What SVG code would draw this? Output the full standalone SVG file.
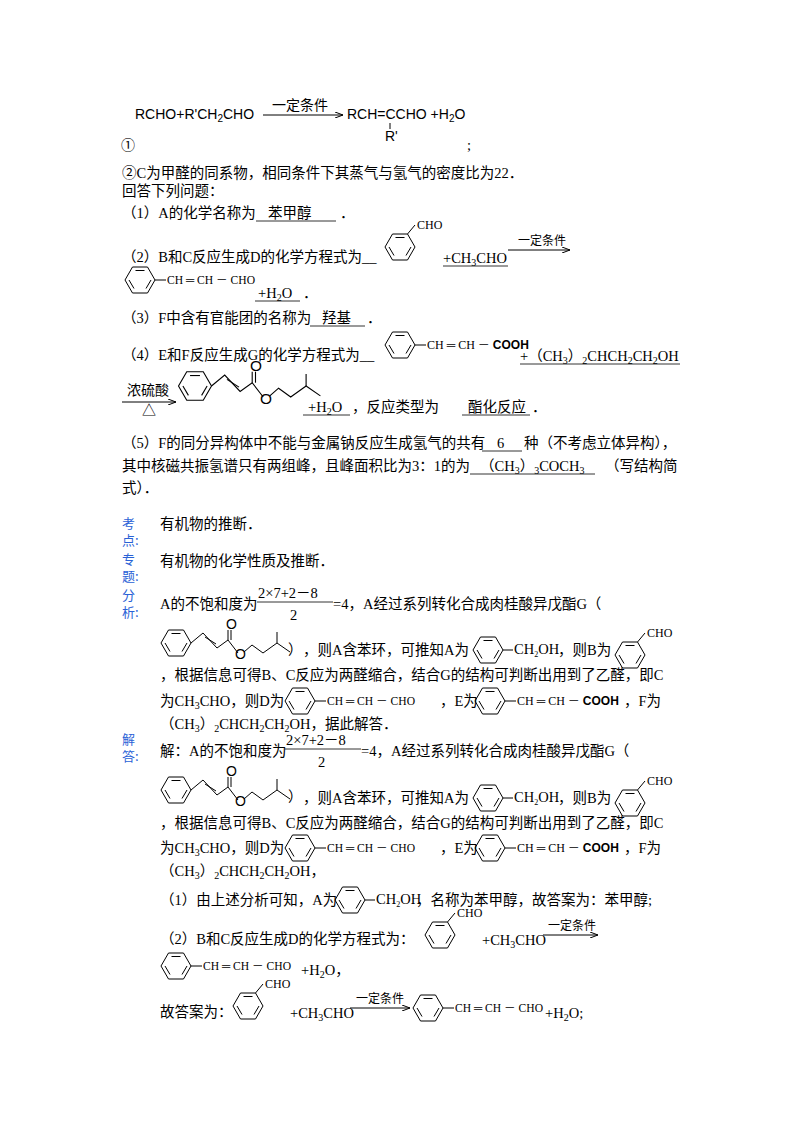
<svg xmlns="http://www.w3.org/2000/svg" xmlns:xlink="http://www.w3.org/1999/xlink" width="800" height="1132" viewBox="0 0 800 1132">
<style>
text{font-family:"Liberation Serif","Noto Sans CJK SC",serif;font-size:14.5px;fill:#000}
.s{font-family:"Liberation Sans","Noto Sans CJK SC",sans-serif;font-size:14px}
.sm{font-size:12px}
.lb{fill:#2a62d6;font-family:"Noto Sans CJK SC",sans-serif;font-size:13px}
.ln{stroke:#000;stroke-width:1;fill:none}
.u{stroke:#000;stroke-width:0.8}
</style>
<defs>
<marker id="ah" markerWidth="8" markerHeight="6" refX="8" refY="3" orient="auto"><path d="M0,0 L8,3 L0,6" fill="none" stroke="#000"/></marker>
<g id="bz" class="ln"><polygon points="-15,0 -7.5,-13 7.5,-13 15,0 7.5,13 -7.5,13"/><line x1="-4.5" y1="-9.5" x2="4.5" y2="-9.5"/><line x1="11" y1="0" x2="6" y2="8.5"/><line x1="-11" y1="0" x2="-6" y2="8.5"/></g>
<g id="G"><use xlink:href="#bz"/><polyline class="ln" points="15,0 27,-10 41,5 52,-3 62,10"/><line class="ln" x1="29" y1="-6" x2="40" y2="1"/><line class="ln" x1="52" y1="-3" x2="52" y2="-13"/><line class="ln" x1="55" y1="-3" x2="55" y2="-13"/><text x="50" y="-14" class="s" font-size="10">O</text><text x="59" y="16" class="s" font-size="10">O</text><polyline class="ln" points="68,9 76,2 87,10 101,0 114,9"/><line class="ln" x1="101" y1="0" x2="101" y2="-11"/></g>
<g id="A"><use xlink:href="#bz"/><line class="ln" x1="15" y1="0" x2="25" y2="0"/><text x="26" y="4" font-size="11">CH<tspan font-size="8" dy="3">2</tspan><tspan dy="-3">OH</tspan></text></g>
<g id="B"><use xlink:href="#bz"/><line class="ln" x1="7.5" y1="-13" x2="15" y2="-22"/><text x="17" y="-18" class="sm">CHO</text></g>
<g id="D"><use xlink:href="#bz"/><line class="ln" x1="15" y1="0" x2="26" y2="0"/><text x="27" y="4" class="sm" textLength="88" lengthAdjust="spacingAndGlyphs">CH ═ CH － CHO</text></g>
<g id="E"><use xlink:href="#bz"/><line class="ln" x1="15" y1="0" x2="26" y2="0"/><text x="27" y="4" class="sm">CH ═ CH － <tspan font-family="Liberation Sans" font-weight="bold">COOH</tspan></text></g>
</defs>

<g id="info">
<text x="135" y="119" class="s">RCHO+R'CH<tspan font-size="10" dy="3">2</tspan><tspan dy="-3">CHO</tspan></text>
<line class="ln" x1="263" y1="115" x2="343" y2="115" marker-end="url(#ah)"/>
<text x="272" y="110" class="s" font-size="12">一定条件</text>
<text x="347" y="119" class="s">RCH=CCHO +H<tspan font-size="10" dy="3">2</tspan><tspan dy="-3">O</tspan></text>
<line class="ln" x1="390" y1="123" x2="390" y2="129"/>
<text x="385" y="141" class="s">R'</text>
<text x="121" y="150" class="s">①</text>
<text x="467" y="150">;</text>
<text x="122" y="178">②C为甲醛的同系物，相同条件下其蒸气与氢气的密度比为22．</text>
<text x="122" y="196">回答下列问题：</text>
</g>

<g id="q1"><text x="122" y="218">（1）A的化学名称为</text><text x="268" y="218">苯甲醇</text><line class="u" x1="256" y1="221" x2="336" y2="221"/><text x="340" y="218">．</text></g>

<g id="q2">
<text x="122" y="262">（2）B和C反应生成D的化学方程式为__</text>
<use xlink:href="#B" x="400" y="247"/>
<text x="443" y="263">+CH<tspan font-size="10" dy="3">3</tspan><tspan dy="-3">CHO</tspan></text>
<line class="u" x1="443" y1="266" x2="508" y2="266"/>
<line class="ln" x1="508" y1="250" x2="570" y2="250" marker-end="url(#ah)"/>
<text x="518" y="245" class="sm s">一定条件</text>
<use xlink:href="#D" x="140" y="280"/>
<text x="258" y="298">+H<tspan font-size="10" dy="3">2</tspan><tspan dy="-3">O</tspan></text>
<line class="u" x1="255" y1="301" x2="300" y2="301"/><text x="303" y="298">．</text>
</g>

<g id="q3"><text x="122" y="323">（3）F中含有官能团的名称为</text><text x="322" y="323">羟基</text><line class="u" x1="310" y1="326" x2="365" y2="326"/><text x="367" y="323">．</text></g>

<g id="q4">
<text x="122" y="360">（4）E和F反应生成G的化学方程式为__</text>
<use xlink:href="#E" x="400" y="345"/>
<text x="520" y="361">+（CH<tspan font-size="10" dy="3">3</tspan><tspan dy="-3">）</tspan><tspan font-size="10" dy="3">2</tspan><tspan dy="-3">CHCH</tspan><tspan font-size="10" dy="3">2</tspan><tspan dy="-3">CH</tspan><tspan font-size="10" dy="3">2</tspan><tspan dy="-3">OH</tspan></text>
<line class="u" x1="520" y1="364" x2="680" y2="364"/>
<text x="127" y="395" class="s" font-size="12">浓硫酸</text>
<line class="ln" x1="122" y1="402" x2="176" y2="402" marker-end="url(#ah)"/>
<text x="142" y="415" class="s" font-size="12">△</text>
<g transform="translate(195,386) scale(1.1)"><use xlink:href="#G"/></g>
<text x="308" y="412">+H<tspan font-size="10" dy="3">2</tspan><tspan dy="-3">O</tspan></text>
<line class="u" x1="303" y1="415" x2="350" y2="415"/>
<text x="352" y="412">，反应类型为</text>
<text x="468" y="412">酯化反应</text><line class="u" x1="462" y1="415" x2="530" y2="415"/><text x="532" y="412">．</text>
</g>

<g id="q5">
<text x="122" y="448">（5）F的同分异构体中不能与金属钠反应生成氢气的共有</text><text x="497" y="448">6</text><line class="u" x1="482" y1="451" x2="522" y2="451"/><text x="524" y="448">种（不考虑立体异构），</text>
<text x="122" y="471">其中核磁共振氢谱只有两组峰，且峰面积比为3：1的为</text>
<text x="480" y="471">（CH<tspan font-size="10" dy="3">3</tspan><tspan dy="-3">）</tspan><tspan font-size="10" dy="3">3</tspan><tspan dy="-3">COCH</tspan><tspan font-size="10" dy="3">3</tspan></text>
<line class="u" x1="470" y1="474" x2="595" y2="474"/>
<text x="605" y="471">（写结构简</text>
<text x="122" y="493">式）．</text>
</g>

<g id="labels">
<text x="122" y="528" class="lb">考</text><text x="122" y="545" class="lb">点:</text>
<text x="160" y="529">有机物的推断．</text>
<text x="122" y="564" class="lb">专</text><text x="122" y="581" class="lb">题:</text>
<text x="160" y="566">有机物的化学性质及推断．</text>
<text x="122" y="600" class="lb">分</text><text x="122" y="617" class="lb">析:</text>
<text x="122" y="744" class="lb">解</text><text x="122" y="761" class="lb">答:</text>
</g>

<g id="analysis">
<text x="160" y="609">A的不饱和度为</text>
<text x="258" y="598" font-size="15">2×7+2－8</text><line class="u" x1="257" y1="602" x2="333" y2="602"/><text x="290" y="620" font-size="15">2</text>
<text x="333" y="609">=4，A经过系列转化合成肉桂酸异戊酯G（</text>
<use xlink:href="#G" x="176" y="643"/><text x="288" y="655">）</text>
<text x="303" y="655">，则A含苯环，可推知A为</text>
<use xlink:href="#A" x="488" y="650"/>
<text x="558" y="655">，则B为</text>
<use xlink:href="#B" x="630" y="655"/>
<text x="160" y="680">，根据信息可得B、C反应为两醛缩合，结合G的结构可判断出用到了乙醛，即C</text>
<text x="160" y="706">为CH<tspan font-size="10" dy="3">3</tspan><tspan dy="-3">CHO，则D为</tspan></text>
<use xlink:href="#D" x="300" y="701"/>
<text x="440" y="706">，E为</text>
<use xlink:href="#E" x="490" y="701"/>
<text x="624" y="706">，F为</text>
<text x="160" y="729">（CH<tspan font-size="10" dy="3">3</tspan><tspan dy="-3">）</tspan><tspan font-size="10" dy="3">2</tspan><tspan dy="-3">CHCH</tspan><tspan font-size="10" dy="3">2</tspan><tspan dy="-3">CH</tspan><tspan font-size="10" dy="3">2</tspan><tspan dy="-3">OH，据此解答．</tspan></text>
</g>

<g id="answer">
<text x="160" y="756">解：A的不饱和度为</text>
<text x="286" y="745" font-size="15">2×7+2－8</text><line class="u" x1="285" y1="749" x2="361" y2="749"/><text x="318" y="767" font-size="15">2</text>
<text x="361" y="756">=4，A经过系列转化合成肉桂酸异戊酯G（</text>
<use xlink:href="#G" x="176" y="790"/><text x="288" y="802">）</text>
<text x="303" y="803">，则A含苯环，可推知A为</text>
<use xlink:href="#A" x="488" y="798"/>
<text x="558" y="803">，则B为</text>
<use xlink:href="#B" x="630" y="803"/>
<text x="160" y="828">，根据信息可得B、C反应为两醛缩合，结合G的结构可判断出用到了乙醛，即C</text>
<text x="160" y="853">为CH<tspan font-size="10" dy="3">3</tspan><tspan dy="-3">CHO，则D为</tspan></text>
<use xlink:href="#D" x="300" y="848"/>
<text x="440" y="853">，E为</text>
<use xlink:href="#E" x="490" y="848"/>
<text x="624" y="853">，F为</text>
<text x="160" y="876">（CH<tspan font-size="10" dy="3">3</tspan><tspan dy="-3">）</tspan><tspan font-size="10" dy="3">2</tspan><tspan dy="-3">CHCH</tspan><tspan font-size="10" dy="3">2</tspan><tspan dy="-3">CH</tspan><tspan font-size="10" dy="3">2</tspan><tspan dy="-3">OH，</tspan></text>
<text x="160" y="905">（1）由上述分析可知，A为</text>
<use xlink:href="#A" x="350" y="900"/>
<text x="416" y="905">，名称为苯甲醇，故答案为：苯甲醇;</text>
<text x="160" y="944">（2）B和C反应生成D的化学方程式为：</text>
<use xlink:href="#B" x="440" y="935"/>
<text x="482" y="945">+CH<tspan font-size="10" dy="3">3</tspan><tspan dy="-3">CHO</tspan></text>
<line class="ln" x1="543" y1="935" x2="598" y2="935" marker-end="url(#ah)"/>
<text x="548" y="930" class="sm s">一定条件</text>
<use xlink:href="#D" x="176" y="966"/>
<text x="301" y="975">+H<tspan font-size="10" dy="3">2</tspan><tspan dy="-3">O，</tspan></text>
<text x="160" y="1017">故答案为：</text>
<use xlink:href="#B" x="248" y="1006"/>
<text x="290" y="1018">+CH<tspan font-size="10" dy="3">3</tspan><tspan dy="-3">CHO</tspan></text>
<line class="ln" x1="350" y1="1008" x2="410" y2="1008" marker-end="url(#ah)"/>
<text x="356" y="1003" class="sm s">一定条件</text>
<use xlink:href="#D" x="428" y="1008"/>
<text x="545" y="1018">+H<tspan font-size="10" dy="3">2</tspan><tspan dy="-3">O;</tspan></text>
</g>
</svg>
